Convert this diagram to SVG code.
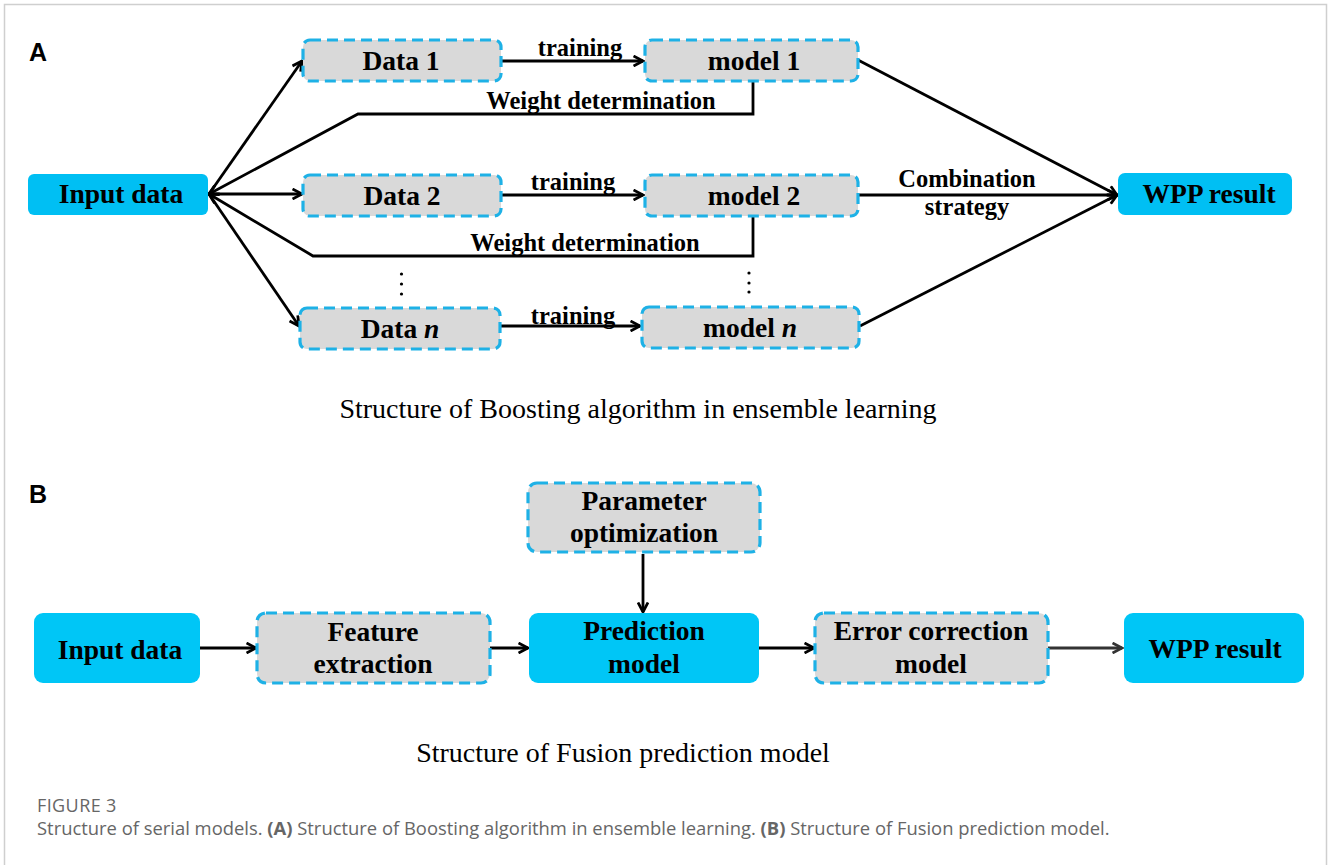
<svg xmlns="http://www.w3.org/2000/svg" width="1328" height="865" viewBox="0 0 1328 865">
<defs>
<marker id="ah" viewBox="0 0 12 12" refX="10.5" refY="6" markerWidth="12" markerHeight="12" markerUnits="userSpaceOnUse" orient="auto">
<path d="M1,1 L10.5,6 L1,11" fill="none" stroke="#000" stroke-width="2.8" stroke-linejoin="miter"/>
</marker>
<marker id="ah2" viewBox="0 0 12 12" refX="10.5" refY="6" markerWidth="12" markerHeight="12" markerUnits="userSpaceOnUse" orient="auto">
<path d="M1,1 L10.5,6 L1,11" fill="none" stroke="#333" stroke-width="2.8"/>
</marker>
</defs>
<style>
.solid{fill:#00BFF3;stroke:none}
.solidB{fill:#00C6F6;stroke:none}
.dash{fill:#D9D9D9;stroke:#1EB1E6;stroke-width:3.2;stroke-dasharray:11,6}
.t{font-family:"Liberation Serif","Times New Roman",serif;font-weight:bold;font-size:27.5px;fill:#000;text-anchor:middle}
.lbl{font-family:"Liberation Serif","Times New Roman",serif;font-weight:bold;font-size:24.5px;fill:#000;text-anchor:middle}
.cap{font-family:"Liberation Serif","Times New Roman",serif;font-size:28px;fill:#000;text-anchor:middle}
.pl{font-family:"Liberation Sans",Arial,sans-serif;font-weight:bold;font-size:25px;fill:#000}
.ln{fill:none;stroke:#000;stroke-width:2.8}
.fig{font-family:"Open Sans","Noto Sans",sans-serif;fill:#666}
</style>
<rect x="0" y="0" width="1328" height="865" fill="#fff"/>
<rect x="4.5" y="4.5" width="1322" height="880" fill="none" stroke="#cfcfcf" stroke-width="1.5"/>

<text class="pl" x="29" y="61">A</text>
<text class="pl" x="29" y="503">B</text>

<g id="connectors">
<line class="ln" x1="209" y1="194" x2="302" y2="61" marker-end="url(#ah)"/>
<line class="ln" x1="209" y1="194" x2="302" y2="194" marker-end="url(#ah)"/>
<line class="ln" x1="209" y1="194" x2="299" y2="326" marker-end="url(#ah)"/>
<polyline class="ln" points="753,81 753,114 358,114 209,194" marker-end="url(#ah)"/>
<polyline class="ln" points="753,217 753,256 313,256 209,194" marker-end="url(#ah)"/>
<line class="ln" x1="501" y1="61" x2="643" y2="61" marker-end="url(#ah)"/>
<line class="ln" x1="501" y1="195" x2="643" y2="195" marker-end="url(#ah)"/>
<line class="ln" x1="500" y1="326" x2="640" y2="326" marker-end="url(#ah)"/>
<line class="ln" x1="858" y1="60" x2="1117" y2="195" marker-end="url(#ah)"/>
<line class="ln" x1="858" y1="195" x2="1117" y2="195" marker-end="url(#ah)"/>
<line class="ln" x1="860" y1="326" x2="1117" y2="195" marker-end="url(#ah)"/>
<line class="ln" x1="200" y1="648" x2="256" y2="648" marker-end="url(#ah)"/>
<line class="ln" x1="490" y1="648" x2="528" y2="648" marker-end="url(#ah)"/>
<line class="ln" x1="759" y1="648" x2="814" y2="648" marker-end="url(#ah)"/>
<line x1="1048" y1="648" x2="1122" y2="648" stroke="#333" stroke-width="2.8" marker-end="url(#ah2)"/>
<line class="ln" x1="643" y1="554" x2="643" y2="612" marker-end="url(#ah)"/>
</g>

<g id="edge-labels">
<text class="lbl" x="580" y="56">training</text>
<text class="lbl" x="573" y="190">training</text>
<text class="lbl" x="573" y="324">training</text>
<text class="lbl" x="601" y="109">Weight determination</text>
<text class="lbl" x="585" y="251">Weight determination</text>
<text class="lbl" x="967" y="187">Combination</text>
<text class="lbl" x="967" y="215">strategy</text>
</g>

<g id="dots" fill="#000">
<circle cx="401.5" cy="274" r="1.6"/><circle cx="401.5" cy="284" r="1.6"/><circle cx="401.5" cy="294" r="1.6"/>
<circle cx="749" cy="273" r="1.6"/><circle cx="749" cy="283" r="1.6"/><circle cx="749" cy="292" r="1.6"/>
</g>

<g id="a-input"><rect class="solid" x="28" y="174" width="180" height="41" rx="6"/><text class="t" x="121" y="203">Input data</text></g>
<g id="a-data1"><rect class="dash" x="303" y="40" width="198" height="41" rx="7"/><text class="t" x="401" y="70">Data 1</text></g>
<g id="a-data2"><rect class="dash" x="303" y="175" width="198" height="41" rx="7"/><text class="t" x="402" y="205">Data 2</text></g>
<g id="a-datan"><rect class="dash" x="300" y="308" width="200" height="41" rx="7"/><text class="t" x="400" y="338">Data <tspan font-style="italic">n</tspan></text></g>
<g id="a-model1"><rect class="dash" x="645" y="40" width="213" height="41" rx="7"/><text class="t" x="754" y="70">model 1</text></g>
<g id="a-model2"><rect class="dash" x="645" y="175" width="213" height="41" rx="7"/><text class="t" x="754" y="205">model 2</text></g>
<g id="a-modeln"><rect class="dash" x="642" y="307" width="217" height="41" rx="7"/><text class="t" x="750" y="337">model <tspan font-style="italic">n</tspan></text></g>
<g id="a-wpp"><rect class="solid" x="1118" y="173" width="174" height="42" rx="7"/><text class="t" x="1209" y="203">WPP result</text></g>

<text class="cap" x="638" y="418">Structure of Boosting algorithm in ensemble learning</text>

<g id="b-input"><rect class="solidB" x="34" y="613" width="166" height="70" rx="9"/><text class="t" x="120" y="659">Input data</text></g>
<g id="b-feature"><rect class="dash" x="257" y="613" width="233" height="70" rx="9"/><text class="t" x="373" y="641">Feature</text><text class="t" x="373" y="673">extraction</text></g>
<g id="b-param"><rect class="dash" x="528" y="483" width="232" height="69" rx="9"/><text class="t" x="644" y="510">Parameter</text><text class="t" x="644" y="542">optimization</text></g>
<g id="b-pred"><rect class="solidB" x="529" y="613" width="230" height="70" rx="9"/><text class="t" x="644" y="640">Prediction</text><text class="t" x="644" y="673">model</text></g>
<g id="b-error"><rect class="dash" x="815" y="613" width="233" height="70" rx="9"/><text class="t" x="931" y="640">Error correction</text><text class="t" x="931" y="673">model</text></g>
<g id="b-wpp"><rect class="solidB" x="1124" y="613" width="180" height="70" rx="9"/><text class="t" x="1215" y="658">WPP result</text></g>

<text class="cap" x="623" y="762">Structure of Fusion prediction model</text>

<text class="fig" x="37" y="812" font-size="18" letter-spacing="0.4">FIGURE 3</text>
<text class="fig" x="37" y="835" font-size="18.4">Structure of serial models. <tspan font-weight="bold">(A)</tspan> Structure of Boosting algorithm in ensemble learning. <tspan font-weight="bold">(B)</tspan> Structure of Fusion prediction model.</text>
</svg>
